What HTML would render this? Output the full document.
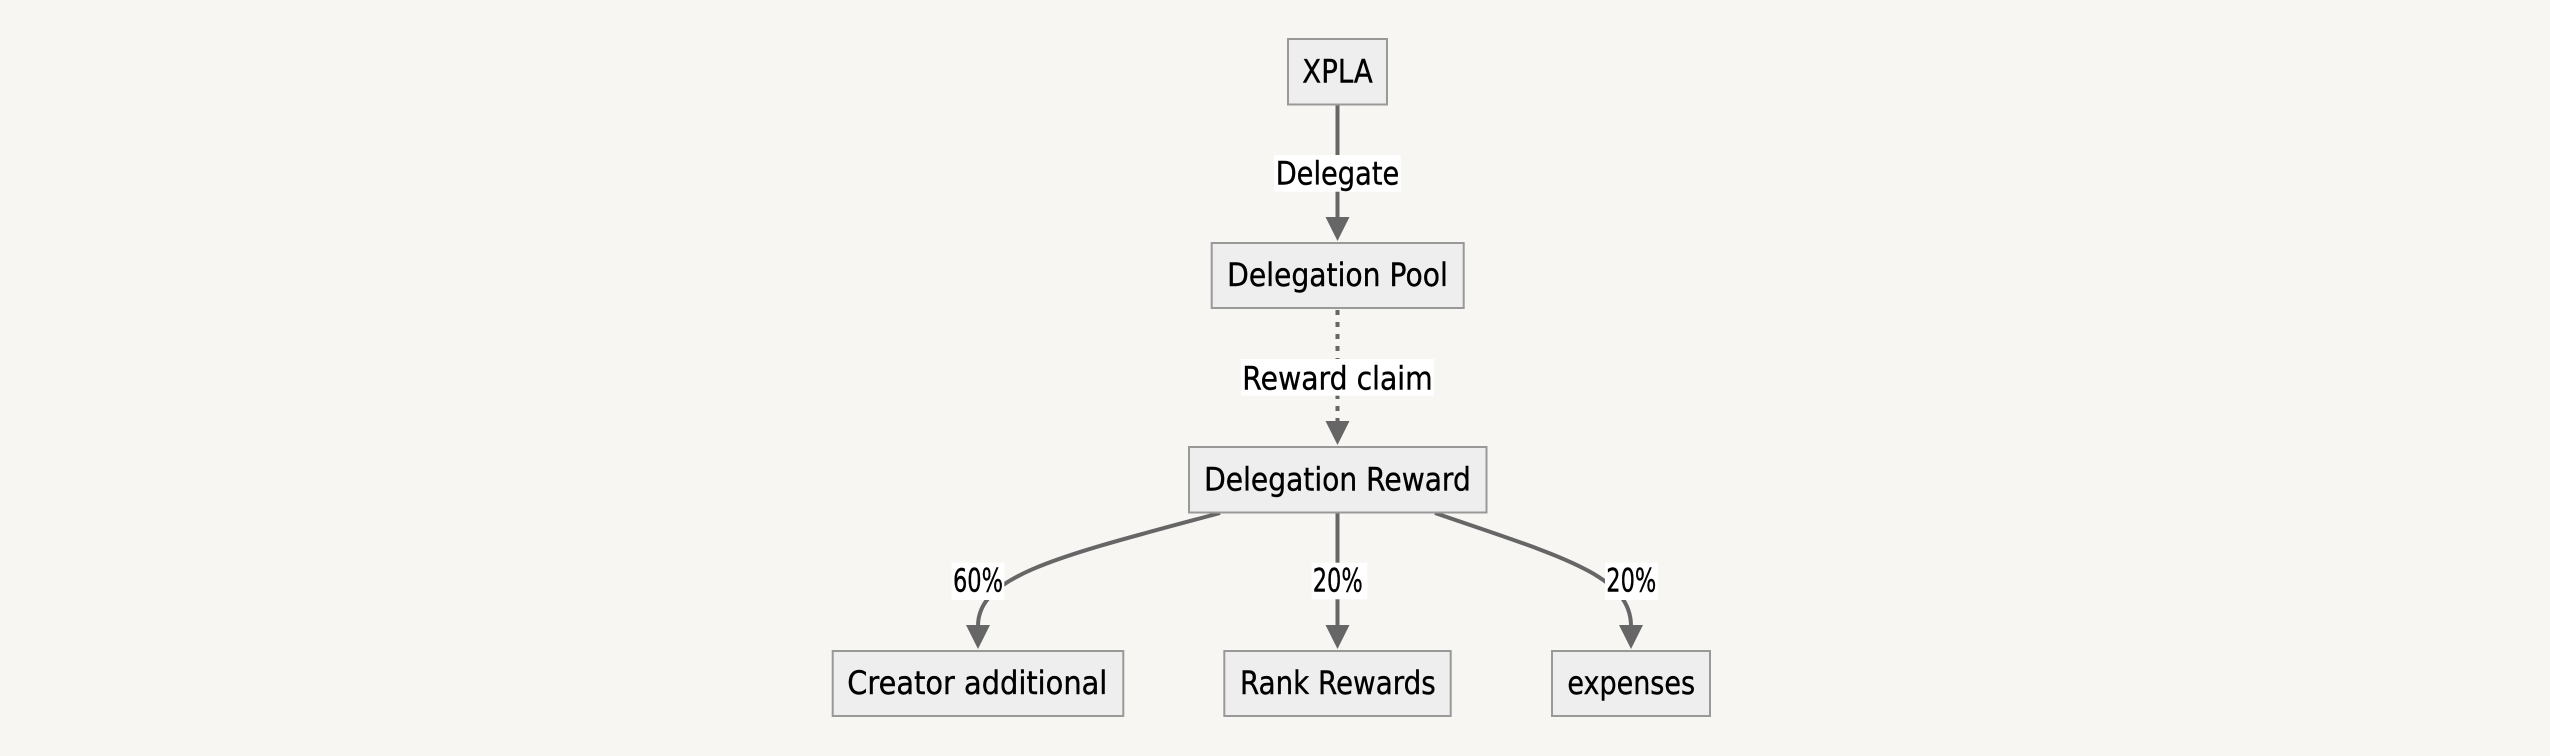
<!DOCTYPE html>
<html>
<head>
<meta charset="utf-8">
<style>
html,body{margin:0;padding:0;background:#f7f6f3;}
svg{display:block;}
text{font-family:"DejaVu Sans","Liberation Sans",sans-serif;font-size:32px;fill:#000;stroke:#000;stroke-width:0.4px;}
</style>
</head>
<body>
<svg width="2550" height="756" viewBox="0 0 2550 756" xmlns="http://www.w3.org/2000/svg">
<rect x="0" y="0" width="2550" height="756" fill="#f7f6f3"/>

<!-- edges -->
<g fill="none" stroke="#666" stroke-width="4">
  <line x1="1337.5" y1="105" x2="1337.5" y2="218"/>
  <line x1="1337.5" y1="310" x2="1337.5" y2="422" stroke-dasharray="5 7"/>
  <line x1="1337.5" y1="513" x2="1337.5" y2="626"/>
  <path d="M1220,513 C1060,556 978,575 978,626"/>
  <path d="M1435,513 C1560,556 1631,575 1631,626"/>
</g>
<!-- arrowheads -->
<g fill="#666">
  <polygon points="1325.5,217 1349.5,217 1337.5,241"/>
  <polygon points="1325.5,421 1349.5,421 1337.5,445"/>
  <polygon points="1325.5,625 1349.5,625 1337.5,649"/>
  <polygon points="966,625 990,625 978,649"/>
  <polygon points="1619,625 1643,625 1631,649"/>
</g>

<!-- nodes -->
<g fill="#eeeeee" stroke="#999" stroke-width="2">
  <rect x="1288" y="39" width="99" height="65.5"/>
  <rect x="1211.7" y="243" width="252" height="65"/>
  <rect x="1189" y="447" width="297.5" height="65.5"/>
  <rect x="832.7" y="651" width="290.6" height="65"/>
  <rect x="1224.3" y="651" width="226.4" height="65"/>
  <rect x="1552" y="651" width="158" height="65"/>
</g>

<!-- edge label backgrounds -->
<g fill="#ffffff">
  <rect x="1274" y="155" width="126.7" height="36.7"/>
  <rect x="1241" y="359" width="193" height="36.7"/>
  <rect x="951.7" y="562.7" width="52.6" height="37.3"/>
  <rect x="1311.7" y="562.7" width="55.6" height="36.6"/>
  <rect x="1605" y="562.7" width="52.7" height="37.3"/>
</g>

<!-- texts -->
<text x="1337.5" y="82.7" text-anchor="middle" textLength="70.4" lengthAdjust="spacingAndGlyphs">XPLA</text>
<text x="1337.5" y="184.3" text-anchor="middle" textLength="123.6" lengthAdjust="spacingAndGlyphs">Delegate</text>
<text x="1337.5" y="286" text-anchor="middle" textLength="220.7" lengthAdjust="spacingAndGlyphs">Delegation Pool</text>
<text x="1337.5" y="389.3" text-anchor="middle" textLength="190.4" lengthAdjust="spacingAndGlyphs">Reward claim</text>
<text x="1337.5" y="490.7" text-anchor="middle" textLength="266.7" lengthAdjust="spacingAndGlyphs">Delegation Reward</text>
<text x="978" y="591.7" text-anchor="middle" textLength="50" lengthAdjust="spacingAndGlyphs">60%</text>
<text x="1337.7" y="591.7" text-anchor="middle" textLength="50" lengthAdjust="spacingAndGlyphs">20%</text>
<text x="1631.3" y="591.7" text-anchor="middle" textLength="50" lengthAdjust="spacingAndGlyphs">20%</text>
<text x="977.3" y="694" text-anchor="middle" textLength="260" lengthAdjust="spacingAndGlyphs">Creator additional</text>
<text x="1337.8" y="694" text-anchor="middle" textLength="195.7" lengthAdjust="spacingAndGlyphs">Rank Rewards</text>
<text x="1631.2" y="694" text-anchor="middle" textLength="127.7" lengthAdjust="spacingAndGlyphs">expenses</text>
</svg>
</body>
</html>
